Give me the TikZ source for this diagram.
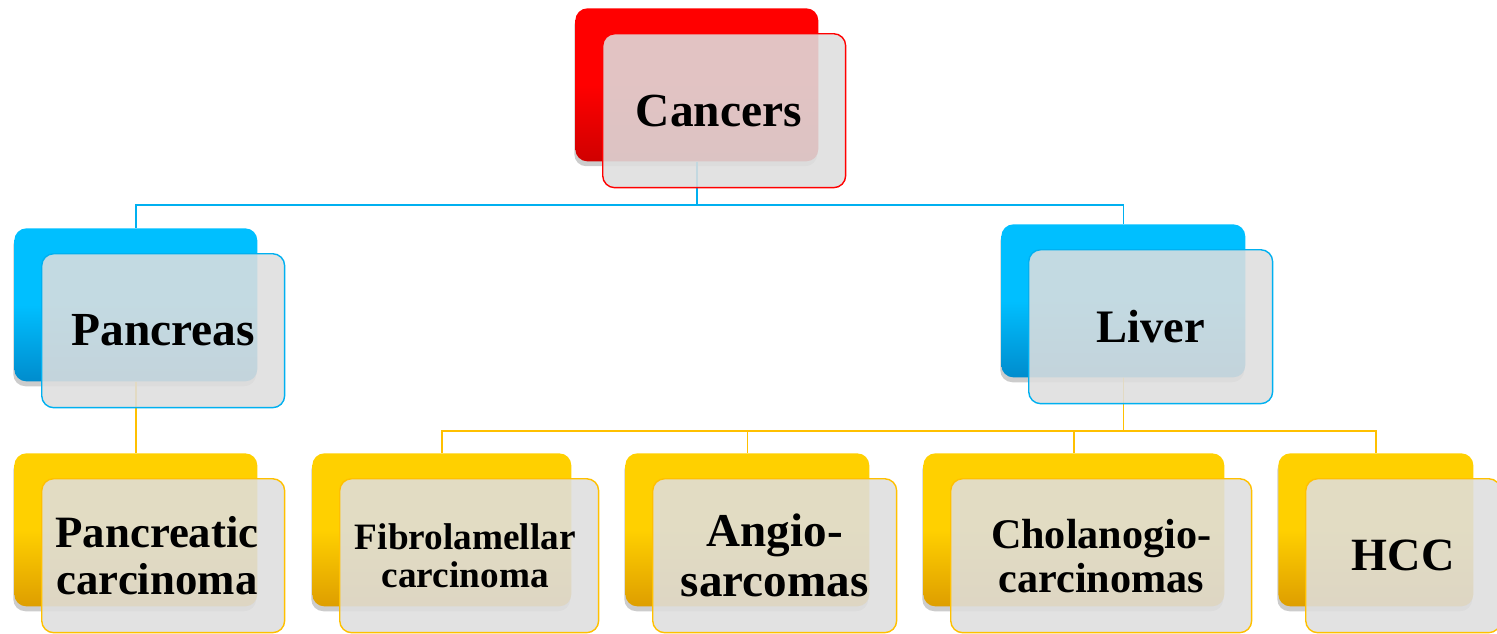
\documentclass[tikz,border=0pt]{standalone}
\usepackage{fontspec}
\setmainfont{Liberation Serif}
\usepackage{xcolor}
\usepackage{tikz}
\usetikzlibrary{positioning,shadows}

\definecolor{cred}{RGB}{255,0,0}
\definecolor{creddk}{RGB}{208,0,0}
\definecolor{cblue}{RGB}{0,191,255}
\definecolor{cbluedk}{RGB}{0,140,205}
\definecolor{cblueln}{RGB}{0,176,240}
\definecolor{cgold}{RGB}{255,208,0}
\definecolor{cgolddk}{RGB}{222,158,0}
\definecolor{cgoldln}{RGB}{255,192,0}
\definecolor{cpane}{RGB}{222,222,222}

\begin{document}
\begin{tikzpicture}[
  x=0.02cm, y=-0.02cm,
  backblk/.style={rounded corners=0.24cm, minimum height=3.06cm, inner sep=0pt,
               anchor=north west,
               drop shadow={shadow xshift=-0.6pt, shadow yshift=-2.8pt,
                            opacity=0.2, fill=black}},
  redback/.style={backblk, top color=cred, bottom color=creddk, middle color=cred},
  blueback/.style={backblk, top color=cblue, bottom color=cbluedk, middle color=cblue},
  goldback/.style={backblk, top color=cgold, bottom color=cgolddk, middle color=cgold},
  frontblk/.style={draw, line width=0.8pt, rounded corners=0.24cm, fill=cpane,
               fill opacity=0.88, text opacity=1, minimum height=3.08cm,
               inner sep=0pt, align=center, anchor=north west},
  redfront/.style={frontblk, draw=cred},
  bluefront/.style={frontblk, draw=cblueln},
  goldfront/.style={frontblk, draw=cgoldln},
  bluelink/.style={draw=cblueln, line width=0.95pt},
  goldlink/.style={draw=cgoldln, line width=0.95pt}
]
\useasboundingbox (0,0) rectangle (1497,633);

\node[redback, minimum width=4.86cm]  (cancers-b) at (575,8) {};
\node[blueback, minimum width=4.86cm] (pancreas-b) at (14,228) {};
\node[blueback, minimum width=4.88cm] (liver-b) at (1001,224) {};
\node[goldback, minimum width=4.86cm] (pcarc-b) at (14,453) {};
\node[goldback, minimum width=5.18cm] (fibro-b) at (312,453) {};
\node[goldback, minimum width=4.88cm] (angio-b) at (625,453) {};
\node[goldback, minimum width=6.02cm] (cholan-b) at (923,453) {};
\node[goldback, minimum width=3.9cm]  (hcc-b) at (1278,453) {};

\draw[bluelink] (cancers-b.south) -- ++(0,43) -| (pancreas-b.north);
\draw[bluelink] (cancers-b.south) -- ++(0,43) -| (liver-b.north);
\draw[goldlink] (pancreas-b.south) -- (pcarc-b.north);
\draw[goldlink] (liver-b.south) -- ++(0,53) -| (fibro-b.north);
\draw[goldlink] (liver-b.south) -- ++(0,53) -| (angio-b.north);
\draw[goldlink] (liver-b.south) -- ++(0,53) -| (cholan-b.north);
\draw[goldlink] (liver-b.south) -- ++(0,53) -| (hcc-b.north);

\node[redfront, minimum width=4.86cm, font=\bfseries\fontsize{27}{28}\selectfont]
  (cancers) at ([shift={(27,25)}]cancers-b.north west) {Cancers\hspace*{6pt}};
\node[bluefront, minimum width=4.86cm, font=\bfseries\fontsize{27}{28}\selectfont]
  (pancreas) at ([shift={(27,25)}]pancreas-b.north west) {Pancreas};
\node[bluefront, minimum width=4.88cm, font=\bfseries\fontsize{26.5}{28}\selectfont]
  (liver) at ([shift={(27,25)}]liver-b.north west) {Liver};
\node[goldfront, minimum width=4.86cm, font=\bfseries\fontsize{25.5}{26.3}\selectfont]
  (pcarc) at ([shift={(27,25)}]pcarc-b.north west) {Pancreatic\hspace*{7pt}\\carcinoma\hspace*{7pt}};
\node[goldfront, minimum width=5.18cm, font=\bfseries\fontsize{21.2}{21.5}\selectfont]
  (fibro) at ([shift={(27,25)}]fibro-b.north west) {Fibrolamellar\hspace*{4.5pt}\\carcinoma\hspace*{4.5pt}};
\node[goldfront, minimum width=4.88cm, font=\bfseries\fontsize{26.8}{28.3}\selectfont]
  (angio) at ([shift={(27,25)}]angio-b.north west) {Angio-\\sarcomas};
\node[goldfront, minimum width=6.02cm, font=\bfseries\fontsize{24}{25}\selectfont]
  (cholan) at ([shift={(27,25)}]cholan-b.north west) {Cholanogio-\\carcinomas};
\node[goldfront, minimum width=3.9cm, font=\bfseries\fontsize{26.3}{28}\selectfont]
  (hcc) at ([shift={(27,25)}]hcc-b.north west) {HCC};
\end{tikzpicture}
\end{document}
